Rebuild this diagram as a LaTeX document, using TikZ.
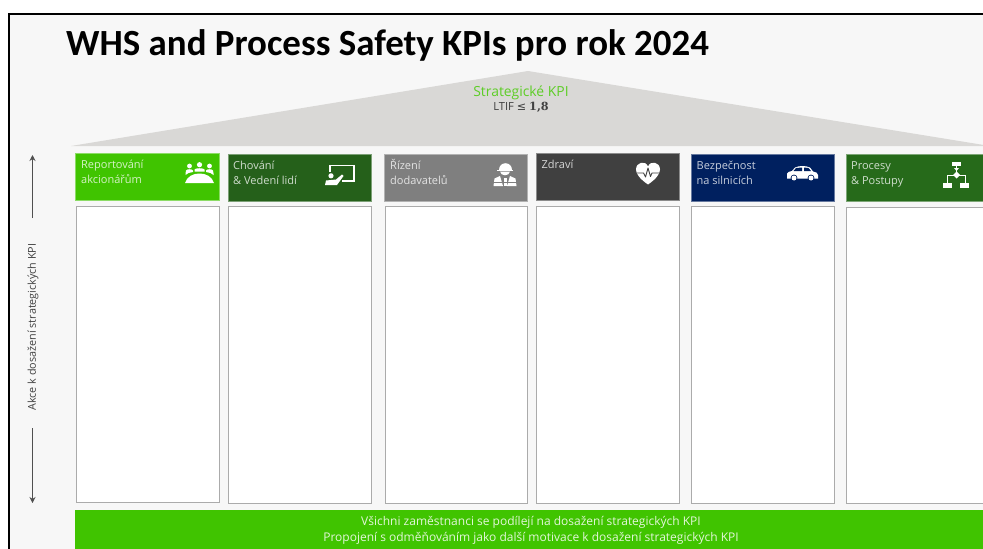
\documentclass[tikz,border=0pt]{standalone}
\usepackage{fontspec}
\setmainfont{Open Sans}
\newfontfamily\titlefont{Carlito}
\newfontfamily\symfont{DejaVu Sans}
\newfontfamily\numfont{DejaVu Serif}
\definecolor{pagebg}{HTML}{F7F7F7}
\definecolor{roofc}{HTML}{D9D8D6}
\definecolor{limeg}{HTML}{40C400}
\definecolor{darkg}{HTML}{25601A}
\definecolor{midg}{HTML}{266A1A}
\definecolor{grayh}{HTML}{7F7F7F}
\definecolor{darkh}{HTML}{404040}
\definecolor{navyh}{HTML}{00205F}
\definecolor{edgeg}{HTML}{ABABAB}
\definecolor{axisc}{HTML}{505050}
\tikzset{
  headbox/.style={draw=#1!60!white,line width=0.8pt,fill=#1,rectangle,inner sep=0},
  bodybox/.style={draw=edgeg,line width=1pt,fill=white,rectangle,inner sep=0},
  headtext/.style={anchor=base west,inner sep=0,align=left,text=white!78!#1,font=\fontsize{11}{15}\selectfont},
  icon/.style={fill=white,draw=none},
  axisline/.style={draw=axisc,line width=1pt,-{Stealth[length=6pt,width=6pt]}},
}
\usetikzlibrary{arrows.meta}
\begin{document}
\begin{tikzpicture}[x=1pt,y=-1pt]
\useasboundingbox (0,0) rectangle (983,549);
\begin{scope}
\clip (0,0) rectangle (983,549);
\fill[pagebg] (9,14) rectangle (990,560);
\draw[black,line width=1.8pt] (9,560) -- (9,14) -- (990,14);
\node[anchor=base west,inner sep=0,font=\titlefont\bfseries\fontsize{36.9}{40}\selectfont] (title) at (66,55) {WHS and Process Safety KPIs pro rok 2024};
\fill[roofc] (71,146) -- (528,71) -- (990,146) -- cycle;
\node[anchor=base,inner sep=0,text=limeg!85!white,font=\fontsize{13.9}{15}\selectfont] (strat) at (521,96) {Strategické KPI};
\node[anchor=base,inner sep=0,text=darkh,font=\fontsize{11.2}{12}\selectfont] (ltif) at (521,110.5) {LTIF {\symfont ≤} {\numfont\bfseries 1,8}};
% header boxes
\path[headbox=limeg] (75.5,153.5) rectangle (219,200.5) node[pos=.5] (h1) {};
\path[headbox=darkg] (228,154.5) rectangle (371,201) node[pos=.5] (h2) {};
\path[headbox=grayh] (384.5,154.5) rectangle (527.5,201) node[pos=.5] (h3) {};
\path[headbox=darkh] (536.5,153.5) rectangle (679.5,200) node[pos=.5] (h4) {};
\path[headbox=navyh] (691,154.5) rectangle (834,201) node[pos=.5] (h5) {};
\path[headbox=midg] (846,154.5) rectangle (990,201) node[pos=.5] (h6) {};
% body boxes
\path[bodybox] (76,206) rectangle (219,502.5);
\path[bodybox] (228.5,206.5) rectangle (371,503);
\path[bodybox] (385,206.5) rectangle (527,503);
\path[bodybox] (536.5,206) rectangle (679,503);
\path[bodybox] (691.5,206.5) rectangle (834,503);
\path[bodybox] (846.5,207) rectangle (990,503.5);
% header text
\node[headtext=limeg] (t1) at (81,183) {Reportování\\akcionářům};
\node[headtext=darkg] (t2) at (233,184) {Chování\\\& Vedení lidí};
\node[headtext=grayh] (t3) at (390,184) {Řízení\\dodavatelů};
\node[headtext=darkh] (t4) at (541.5,168) {Zdraví};
\node[headtext=navyh] (t5) at (696.5,184) {Bezpečnost\\na silnicích};
\node[headtext=midg] (t6) at (851,184) {Procesy\\\& Postupy};
% icon 1: meeting
\fill[icon] (189.5,166) circle (2.4) (199.5,164.7) circle (2.6) (209.5,166) circle (2.4);
\fill[icon] (185.5,173.5) -- (186,170.5) .. controls (187,168.8) and (192,168.8) .. (193,170.5) -- (193,172) .. controls (189.5,172.5) and (187.5,173) .. (185.5,175) -- cycle;
\fill[icon] (213.5,173.5) -- (213,170.5) .. controls (212,168.8) and (207,168.8) .. (206,170.5) -- (206,172) .. controls (209.5,172.5) and (211.5,173) .. (213.5,175) -- cycle;
\fill[icon] (194.5,171.5) -- (194.5,169.5) .. controls (195.5,167.8) and (203.5,167.8) .. (204.5,169.5) -- (204.5,171.5) -- cycle;
\fill[icon] (185,183) .. controls (187,176.5) and (193,173.5) .. (199.5,173.5) .. controls (206,173.5) and (212,176.5) .. (214,183) -- cycle;
% icon 2: board
\draw[white,line width=1.2pt] (330,172) -- (330,165.2) -- (354,165.2) -- (354,181) -- (342,181);
\fill[icon] (331,175.8) circle (2.6);
\fill[icon] (325,185) -- (326,180.5) -- (336,179.5) -- (342,174.5) -- (343.5,176) -- (337,185) -- cycle;
% icon 3: worker
\fill[icon] (498.5,169.5) .. controls (498.5,160.5) and (511.5,160.5) .. (511.5,169.5) -- cycle;
\fill[icon] (497,169.5) rectangle (513,171);
\fill[icon] (500,171.5) .. controls (500.5,176.5) and (509.5,176.5) .. (510,171.5) -- cycle;
\fill[icon] (493.5,186) -- (494.5,178.5) -- (500,176) -- (503,186) -- cycle;
\fill[icon] (516.5,186) -- (515.5,178.5) -- (510,176) -- (507,186) -- cycle;
\fill[icon] (503.5,177.5) -- (506.5,177.5) -- (506.5,186) -- (503.5,186) -- cycle;
\fill[grayh] (493,181.5) rectangle (517,182.3);
% icon 4: heart
\fill[icon] (648,184.5) .. controls (640,179) and (636,174) .. (636,169.5) .. controls (636,162) and (645.5,160) .. (648,166.5) .. controls (650.5,160) and (660,162) .. (660,169.5) .. controls (660,174) and (656,179) .. (648,184.5) -- cycle;
\draw[darkh,line width=0.9pt,line join=round] (636.5,173) -- (643.5,173) -- (645.5,177) -- (648,168) -- (650.5,176.5) -- (652,173) -- (659.5,173);
% icon 5: car
\fill[icon] (787,177.5) -- (787,173.5) .. controls (787,172) and (790,171.5) .. (792,171) -- (795,167.5) .. controls (799,165.5) and (806,165.5) .. (810,167.5) -- (813,171.5) .. controls (816,172) and (818,173) .. (818,175) -- (818,178.5) -- (787,178.5) -- cycle;
\fill[navyh] (793.5,171) -- (796,168) -- (802,167.5) -- (802,171) -- cycle;
\fill[navyh] (804,167.5) -- (808.5,168) -- (811,171) -- (804,171) -- cycle;
\fill[navyh] (794,178) circle (3.4) (811,178) circle (3.4);
\fill[icon] (794,178) circle (2.5) (811,178) circle (2.5);
% icon 6: flow
\fill[icon] (952,162) rectangle (961,165.5);
\fill[icon] (954,168) -- (959,168) -- (956.5,171) -- cycle;
\draw[white,line width=1pt] (956.5,165) -- (956.5,172);
\fill[icon] (956.5,171.5) -- (960,175) -- (956.5,178.5) -- (953,175) -- cycle;
\draw[white,line width=1pt] (947.5,183) -- (947.5,175) -- (965.5,175) -- (965.5,183);
\fill[icon] (943,183) rectangle (952,188);
\fill[icon] (959.5,183) rectangle (969,188);
% axis
\node[rotate=90,inner sep=0,text=darkh,font=\fontsize{10.8}{12}\selectfont] (axis) at (33,327) {Akce k dosažení strategických KPI};
\coordinate (axtop) at (32.5,155);
\coordinate (axtopin) at (32.5,218);
\coordinate (axbot) at (32.5,503);
\coordinate (axbotin) at (32.5,428);
\draw[axisline] (axtopin) -- (axtop);
\draw[axisline] (axbotin) -- (axbot);
% bottom bar
\fill[limeg] (75,509.5) rectangle (990,560);
\node[inner sep=0,align=center,text=white!85!limeg,font=\fontsize{12}{16}\selectfont] (bar) at (531,530.5) {Všichni zaměstnanci se podílejí na dosažení strategických KPI\\Propojení s odměňováním jako další motivace k dosažení strategických KPI};
\end{scope}
\end{tikzpicture}
\end{document}
